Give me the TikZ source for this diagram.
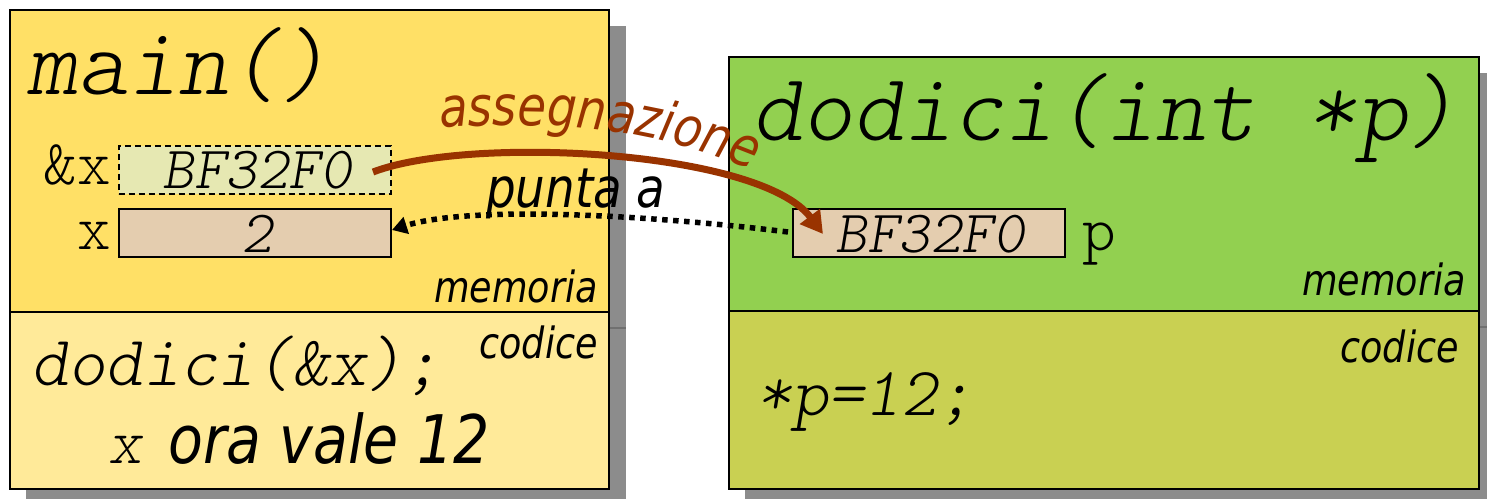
\documentclass[tikz,border=0pt]{standalone}
\usepackage{fontspec}
\newfontfamily\lab[FakeStretch=0.85]{DejaVu Sans}
\newfontfamily\cmono{lmmonolt10-regular.otf}[ItalicFont=lmmonolt10-oblique.otf]
\usetikzlibrary{arrows.meta,decorations.text}
\definecolor{memyellow}{RGB}{255,224,102}
\definecolor{codeyellow}{RGB}{255,234,153}
\definecolor{memgreen}{RGB}{146,208,80}
\definecolor{codeolive}{RGB}{201,208,82}
\definecolor{addrfill}{RGB}{230,232,178}
\definecolor{cellfill}{RGB}{228,205,175}
\definecolor{assignbrown}{RGB}{153,51,0}
\definecolor{shadowgrey}{RGB}{140,140,140}
\definecolor{shadowline}{RGB}{112,112,112}
\newcommand{\fs}[1]{\fontsize{#1}{#1}\selectfont}
\begin{document}
\begin{tikzpicture}[x=1pt,y=-1pt,
  panel/.style={draw=black,line width=2.4pt,inner sep=0pt},
  cell/.style={draw=black,line width=2pt,inner sep=0pt,minimum width=272pt,minimum height=48pt,fill=cellfill},
  txt/.style={inner sep=0pt},
  code/.style={txt,font=\cmono\itshape},
  tag/.style={txt,font=\lab\itshape\fs{43}},
]
\useasboundingbox (0,0) rectangle (1487,498);

% drop shadows
\fill[shadowgrey] (26,26) rectangle (626,505);
\fill[shadowgrey] (745,73) rectangle (1495,505);
\draw[shadowline,line width=1.5pt] (609,328) -- (626,328);
\draw[shadowline,line width=1.5pt] (1479,327) -- (1487,327);

% caller frame: memory and code
\node[panel,fill=memyellow,minimum width=599pt,minimum height=302pt] (mainmem) at (309.5,161) {};
\node[panel,fill=codeyellow,minimum width=599pt,minimum height=177pt] (maincode) at (309.5,400.5) {};

% callee frame: memory and code
\node[panel,fill=memgreen,minimum width=750pt,minimum height=254pt] (fmem) at (1104,184) {};
\node[panel,fill=codeolive,minimum width=750pt,minimum height=178pt] (fcode) at (1104,400) {};

% caller contents
\node[code,font=\cmono\itshape\fs{96},anchor=base west] (mainsig) at (27,94) {main()};
\node[cell,fill=addrfill,dashed,dash pattern=on 6pt off 4pt] (addr) at (254.5,169.5) {};
\node[code,font=\cmono\itshape\fs{60}] (addrval) at (257,170) {BF32F0};
\node[cell] (xcell) at (254.5,233) {};
\node[code,font=\cmono\itshape\fs{60}] (xval) at (257,234) {2};
\node[txt,font=\cmono\fs{64},anchor=base east] (addrlab) at (111,184) {\&x};
\node[txt,font=\cmono\fs{64},anchor=base east] (xlab) at (111,249) {x};
\node[tag,anchor=base east] (mem1) at (598,302) {memoria};
\node[tag,anchor=base east] (cod1) at (598,358) {codice};
\node[code,font=\cmono\itshape\fs{71},anchor=base west] (call) at (31,385) {dodici(\&x);};
\node[code,font=\cmono\itshape\fs{64},anchor=base west] (xnow) at (108,463) {x};
\node[txt,font=\lab\itshape\fs{67},anchor=base west] (nowtext) at (168,463) {ora vale 12};

% callee contents
\node[code,font=\cmono\itshape\fs{96},anchor=base west] (fsig) at (752,140) {dodici(int *p)};
\node[cell] (pcell) at (929,233) {};
\node[code,font=\cmono\itshape\fs{60}] (pval) at (930,234) {BF32F0};
\node[txt,font=\cmono\fs{64},anchor=base west] (plab) at (1082,250) {p};
\node[tag,anchor=base east] (mem2) at (1466,295) {memoria};
\node[tag,anchor=base east] (cod2) at (1459,362) {codice};
\node[code,font=\cmono\itshape\fs{69},anchor=base west] (assign) at (756,415) {*p=12;};

% arrow end points
\coordinate (asrc) at (373,172);
\coordinate (adst) at (823,234);
\coordinate (psrc) at (788,232);
\coordinate (pdst) at (392,230);

% assignment of the address to p
\draw[assignbrown,line width=7pt,-{Triangle[length=22pt,width=24pt]}]
  (asrc) .. controls (470,135) and (760,150) .. (adst);
\path[decorate,decoration={text along path,
    text color=assignbrown,
    text={|\lab\itshape\fs{55}|assegnazione}}]
  (440,128) .. controls (560,120) and (660,128) .. (770,178);

% p points back to x
\draw[black,line width=5.5pt,dash pattern=on 5.5pt off 5.5pt,-{Triangle[length=15pt,width=17pt]}]
  (psrc) .. controls (650,215) and (470,205) .. (pdst);
\node[txt,font=\lab\itshape\fs{55},anchor=base west] (ptlab) at (486,207) {punta a};
\end{tikzpicture}
\end{document}
